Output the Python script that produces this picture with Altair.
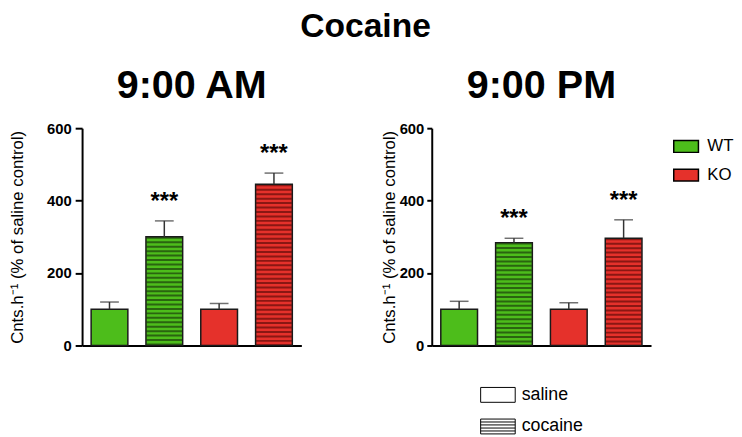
import altair as alt
import pandas as pd

# ---- data ----
groups = ["WT saline", "WT cocaine", "KO saline", "KO cocaine"]
genotype = ["WT", "WT", "KO", "KO"]
treatment = ["saline", "cocaine", "saline", "cocaine"]
am_mean = [100, 300, 100, 445]
am_sem = [20, 44, 16, 31]
pm_mean = [100, 284, 100, 296]
pm_sem = [22, 12, 18, 51]
am_stars = ["", "***", "", "***"]
pm_stars = ["", "***", "", "***"]
y_ticks = [0, 200, 400, 600]
genotypes = ["WT", "KO"]
treatments = ["saline", "cocaine"]

FONT = "Liberation Sans"
fill_colors = ["#4dbd1b", "#e5312b"]
stripe_colors = ["#2a6410", "#8a1713"]
YTITLE = "Cnts.h\u207b\u00b9 (% of saline control)"

rect_path = "M-1,-0.48H1V0.48H-1Z"
sal_path = "M-1,-0.43H1V0.43H-1Z"
coc_path = "M-1,-0.43H1V0.43H-1Z M-1,-0.26H1 M-1,-0.09H1 M-1,0.09H1 M-1,0.26H1"


def frame(mean, sem, stars):
    return pd.DataFrame({"group": groups, "genotype": genotype, "treatment": treatment,
                         "mean": mean, "sem": sem, "stars": stars})


def panel(df, title, tick_size, label_pad, title_pad, show_legend):
    base = alt.Chart(df).transform_calculate(top="datum.mean + datum.sem")
    x = alt.X("group:N", sort=groups,
              scale=alt.Scale(paddingInner=0.33, paddingOuter=0.165),
              axis=alt.Axis(title=None, labels=False, ticks=False,
                            domainColor="black", domainWidth=2))
    yaxis = alt.Axis(values=y_ticks, title=YTITLE, grid=False,
                     domainColor="black", domainWidth=2,
                     tickColor="black", tickWidth=2, tickSize=tick_size,
                     labelFont=FONT, labelFontSize=15, labelFontWeight="bold",
                     labelColor="black", labelPadding=label_pad,
                     titleFont=FONT, titleFontSize=17, titleFontWeight="normal",
                     titleColor="black", titlePadding=title_pad)
    yscale = alt.Scale(domain=[0, 600], nice=False)

    if show_legend:
        color_legend = alt.Legend(title=None, orient="none", legendX=244, legendY=5,
                                  symbolType=rect_path, symbolSize=625,
                                  symbolStrokeColor="black", symbolStrokeWidth=1.5,
                                  labelFont=FONT, labelFontSize=17, labelColor="black",
                                  labelOffset=8, rowPadding=6)
        shape_legend = alt.Legend(title=None, orient="none", legendX=49, legendY=252,
                                  symbolSize=1225, symbolOpacity=1,
                                  symbolStrokeColor="black", symbolFillColor="white",
                                  symbolStrokeWidth=1,
                                  labelFont=FONT, labelFontSize=18, labelColor="black",
                                  labelOffset=6, rowPadding=4)
    else:
        color_legend = None
        shape_legend = None

    color = alt.Color("genotype:N",
                      scale=alt.Scale(domain=genotypes, range=fill_colors),
                      legend=color_legend)
    bars = base.mark_bar().encode(
        x=x, y=alt.Y("mean:Q", scale=yscale, axis=yaxis), color=color)

    stripes = base.transform_filter("datum.treatment == 'cocaine'").mark_rule(
        strokeWidth=36, strokeDash=[2, 2.5], strokeCap="butt").encode(
        x=x, y=alt.Y("mean:Q", scale=yscale, axis=yaxis), y2=alt.datum(0),
        stroke=alt.Stroke("genotype:N",
                          scale=alt.Scale(domain=genotypes, range=stripe_colors),
                          legend=None))

    outline = base.mark_bar(fillOpacity=0, stroke="#1a1a1a", strokeWidth=1.5).encode(
        x=x, y=alt.Y("mean:Q", scale=yscale, axis=yaxis))

    err = base.mark_rule(color="#333333", strokeWidth=1.5).encode(
        x=x, y=alt.Y("mean:Q", scale=yscale, axis=yaxis), y2="top:Q")
    cap = base.mark_tick(size=19, thickness=1.5, color="#333333").encode(
        x=x, y=alt.Y("top:Q", scale=yscale, axis=yaxis))
    stars = base.mark_text(font=FONT, fontSize=24, fontWeight="bold", baseline="alphabetic",
                           dy=-12, color="black").encode(
        x=x, y=alt.Y("top:Q", scale=yscale, axis=yaxis), text="stars:N")

    shape_layer = base.mark_point(opacity=0).encode(
        x=x, y=alt.Y("mean:Q", scale=yscale, axis=yaxis),
        shape=alt.Shape("treatment:N",
                        scale=alt.Scale(domain=treatments, range=[sal_path, coc_path]),
                        legend=shape_legend))

    return alt.layer(bars, stripes, outline, err, cap, stars, shape_layer).properties(
        width=222, height=220,
        title=alt.TitleParams(text=title, font=FONT, fontSize=40, fontWeight="bold",
                              color="black", offset=16, anchor="middle"))


left = panel(frame(am_mean, am_sem, am_stars), "9:00 AM", 7, 4, 20, False)
right = panel(frame(pm_mean, pm_sem, pm_stars), "9:00 PM", 5, 3, 1, True)

chart = alt.hconcat(left, right, spacing=79).resolve_legend(
    color="independent", shape="independent"
).properties(
    padding=0,
    title=alt.TitleParams(text="Cocaine", font=FONT, fontSize=34, fontWeight="bold",
                          color="black", offset=22, anchor="middle", dx=-6),
).configure_view(stroke=None)

chart.save("out.html", embed_options={"renderer": "svg", "actions": False})
